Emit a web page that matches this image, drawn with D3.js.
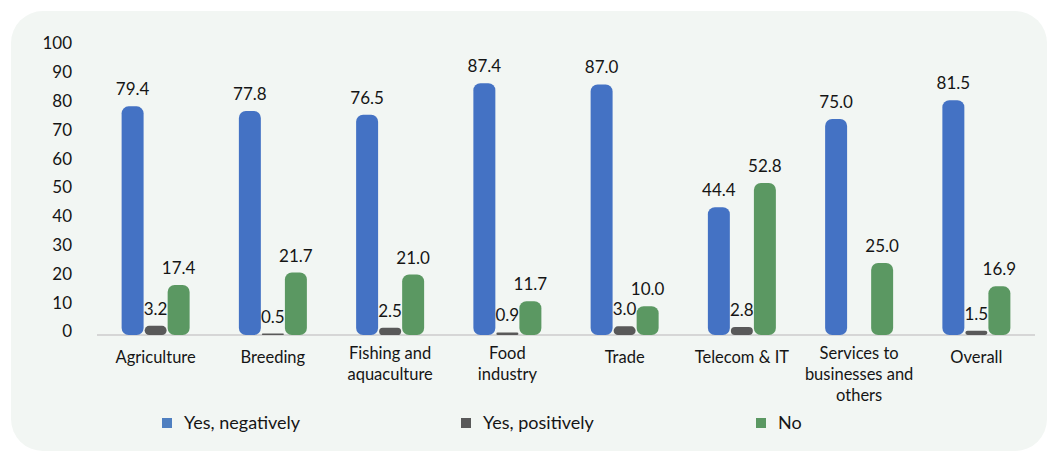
<!DOCTYPE html>
<html>
<head>
<meta charset="utf-8">
<script src="https://cdn.jsdelivr.net/npm/d3@7"></script>
<style>
  html, body { margin: 0; padding: 0; background: #ffffff; }
  svg { display: block; }
  text { font-family: Lato, "Open Sans", sans-serif; fill: #151515; }
</style>
</head>
<body>
<svg id="chart" width="1052" height="455"></svg>
<script>
// Sectors (multi-line labels split on "|")
const categories = [
  "Agriculture",
  "Breeding",
  "Fishing and|aquaculture",
  "Food|industry",
  "Trade",
  "Telecom & IT",
  "Services to|businesses and|others",
  "Overall"
];

const seriesNames = ["Yes, negatively", "Yes, positively", "No"];

const yesNegatively = [79.4, 77.8, 76.5, 87.4, 87.0, 44.4, 75.0, 81.5];
const yesPositively = [3.2, 0.5, 2.5, 0.9, 3.0, 2.8, null, 1.5];
const no            = [17.4, 21.7, 21.0, 11.7, 10.0, 52.8, 25.0, 16.9];

const yTicks = [0, 10, 20, 30, 40, 50, 60, 70, 80, 90, 100];

const colors = ["#4472c4", "#595959", "#5b9862"];
const legendColors = ["#4f7fc0", "#595959", "#5b9862"];

const seriesValues = [yesNegatively, yesPositively, no];

const svg = d3.select("#chart");

// Rounded background panel
svg.append("rect")
  .attr("x", 11).attr("y", 11)
  .attr("width", 1036).attr("height", 440)
  .attr("rx", 32).attr("ry", 32)
  .attr("fill", "#f2f6f3");

const plot = { left: 97, right: 1035, top: 47, bottom: 335 };

const x0 = d3.scaleBand()
  .domain(categories)
  .range([plot.left, plot.right])
  .paddingInner(0.42)
  .paddingOuter(0.21);

const x1 = d3.scaleBand()
  .domain(seriesNames)
  .range([0, x0.bandwidth()])
  .paddingInner(0.045)
  .paddingOuter(0);

const y = d3.scaleLinear()
  .domain([0, 100])
  .range([plot.bottom, plot.top]);

// Y axis labels only (no axis line, no gridlines)
const yAxis = d3.axisLeft(y).tickValues(yTicks).tickSize(0).tickPadding(0);
const yG = svg.append("g")
  .attr("transform", "translate(72,0)")
  .call(yAxis);
yG.select(".domain").remove();
yG.selectAll("text")
  .attr("dy", "0.32em")
  .attr("y", -3.5)
  .style("font-size", "17px")
  .style("font-family", "Lato, 'Open Sans', sans-serif")
  .attr("fill", "#151515");

// Baseline
svg.append("line")
  .attr("x1", plot.left).attr("x2", plot.right)
  .attr("y1", plot.bottom).attr("y2", plot.bottom)
  .attr("stroke", "#d6d6d6")
  .attr("stroke-width", 2);

// Bars
const rows = categories.map((c, i) => ({
  category: c,
  values: seriesNames.map((s, j) => ({ series: s, idx: j, value: seriesValues[j][i] }))
}));

const groups = svg.append("g").selectAll("g")
  .data(rows)
  .join("g")
  .attr("transform", d => `translate(${x0(d.category)},0)`);

const bars = groups.selectAll("g.bar")
  .data(d => d.values.filter(v => v.value != null))
  .join("g")
  .attr("class", "bar");

bars.append("rect")
  .attr("x", d => x1(d.series))
  .attr("width", x1.bandwidth())
  .attr("y", d => y(d.value))
  .attr("height", d => y(0) - y(d.value))
  .attr("rx", d => Math.min(7, (y(0) - y(d.value)) / 2))
  .attr("fill", d => colors[d.idx]);

bars.append("text")
  .attr("x", d => x1(d.series) + x1.bandwidth() / 2)
  .attr("y", d => y(d.value) - 11)
  .attr("text-anchor", "middle")
  .style("font-size", "17px")
  .text(d => d.value.toFixed(1));

// Category labels
const catLabels = svg.append("g").selectAll("text")
  .data(categories)
  .join("text")
  .attr("x", d => x0(d) + x0.bandwidth() / 2)
  .attr("y", d => (d.split("|").length > 1 ? 353 : 357))
  .attr("text-anchor", "middle")
  .style("font-size", "16.5px");

catLabels.each(function(d) {
  const t = d3.select(this);
  d.split("|").forEach((line, i) => {
    t.append("tspan")
      .attr("x", x0(d) + x0.bandwidth() / 2)
      .attr("dy", i === 0 ? "0.35em" : "21px")
      .text(line);
  });
});

// Legend
const legendX = [162, 461, 756];
const legend = svg.append("g").selectAll("g")
  .data(seriesNames)
  .join("g")
  .attr("transform", (d, i) => `translate(${legendX[i]},423)`);

legend.append("rect")
  .attr("x", 0).attr("y", -5)
  .attr("width", 10).attr("height", 10)
  .attr("fill", (d, i) => legendColors[i]);

legend.append("text")
  .attr("x", 22).attr("y", 0)
  .attr("dy", "0.35em")
  .style("font-size", "18px")
  .text(d => d);
</script>
</body>
</html>
